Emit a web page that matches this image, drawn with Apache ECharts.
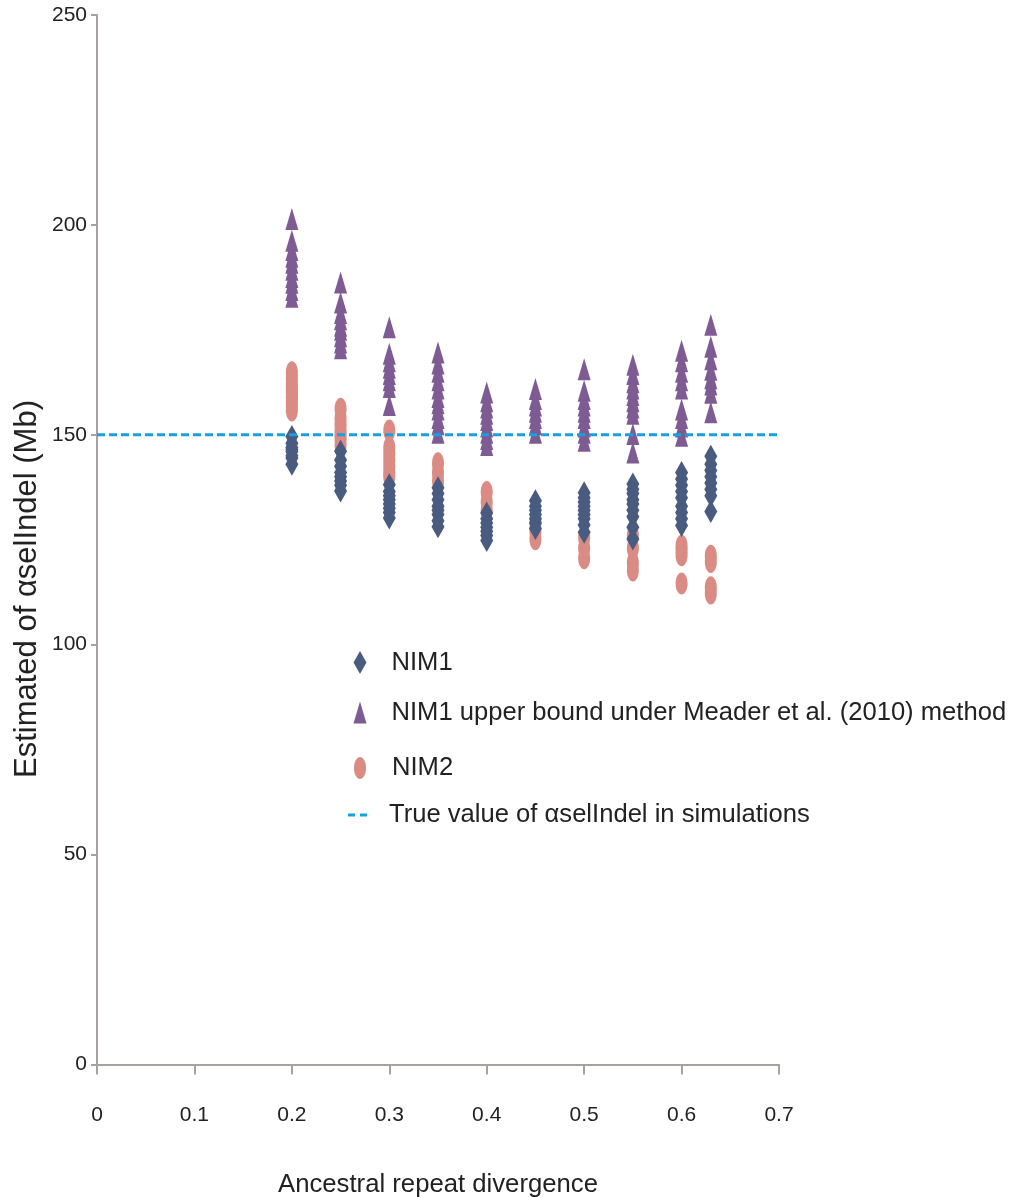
<!DOCTYPE html>
<html>
<head>
<meta charset="utf-8">
<title>Estimated αselIndel vs ancestral repeat divergence</title>
<script src="https://cdn.jsdelivr.net/npm/echarts@6/dist/echarts.min.js"></script>
<style>
  html, body { margin: 0; padding: 0; background: #ffffff; }
  #chart { width: 1010px; height: 1197px; }
</style>
</head>
<body>
<div id="chart"></div>
<script>
// Divergence levels at which the simulations were run
const divergence = [0.2, 0.25, 0.3, 0.35, 0.4, 0.45, 0.5, 0.55, 0.6, 0.63];

// NIM1 estimates (Mb), one list per divergence level
const nim1 = [
  [149.6, 148, 147, 146.5, 146, 145, 144.5, 143],
  [146.1, 144, 142.5, 141, 140, 139, 138, 136.6],
  [138.1, 136.5, 135.5, 134.5, 133.5, 132.5, 131.5, 130.2],
  [137.4, 136, 134.5, 133, 132, 131, 129.5, 128.1],
  [131.4, 130, 129, 128, 127, 126, 124.8],
  [134.3, 133, 132, 131, 130, 129, 127.7],
  [136.2, 135, 134, 133, 132, 131, 130, 128.5, 126.8],
  [138.3, 137, 136, 134.5, 133.5, 132, 130.5, 128, 125.2],
  [141, 139.5, 138, 136.5, 135, 133, 131.5, 130, 128.4],
  [144.9, 143, 141.5, 140, 138.5, 137, 135.5, 131.7]
];

// NIM1 upper bound under the Meader et al. (2010) method (Mb)
const nim1Upper = [
  [201.4, 196.2, 194.0, 192.4, 191.0, 189.3, 187.6, 186.2, 184.5, 182.9],
  [186.3, 181.5, 179, 177.5, 176, 175, 173.5, 172, 170.6],
  [175.6, 169.3, 167.5, 166, 164.5, 163, 161.4, 157.1],
  [169.6, 167, 165, 163, 161, 159, 157.5, 156, 154, 152.5, 150.5],
  [160.1, 158, 156.5, 155, 153.5, 152, 150.5, 149, 147.6],
  [160.9, 158.5, 157, 155.5, 154, 152.5, 150.5],
  [165.6, 160.5, 158.5, 157, 155.5, 154, 152, 150.5, 148.6],
  [166.7, 164.5, 162.5, 161, 159.5, 158, 156.5, 155, 150.2, 145.8],
  [170, 167.5, 165, 163, 161, 156, 154, 152, 149.8],
  [176.2, 171, 168, 165.5, 163.5, 162, 160, 155.4]
];

// NIM2 estimates (Mb)
const nim2 = [
  [164.9, 163.5, 162, 161, 160, 159, 158, 157, 155.8],
  [156.2, 154, 152.5, 151, 150, 149, 147.5],
  [151, 147, 145.5, 144, 142.5, 141, 140],
  [143.2, 141, 139],
  [136.4, 134, 132],
  [125.1, 127, 129],
  [120.6, 123, 125.5],
  [117.7, 119.5, 123, 126],
  [123.6, 122.5, 121.3, 114.6],
  [121.2, 119.7, 113.7, 112.2]
];

// Value used in the simulations, drawn across the divergence range
const trueValue = 150;
const trueLineX = [0, 0.7];

const seriesNames = [
  'NIM1',
  'NIM1 upper bound under Meader et al. (2010) method',
  'NIM2',
  'True value of αselIndel in simulations'
];

function pairs(groups) {
  const out = [];
  groups.forEach((vals, i) => vals.forEach(v => out.push([divergence[i], v])));
  return out;
}

const ellipse = 'path://M1,0C1.552,0,2,0.448,2,1C2,1.552,1.552,2,1,2C0.448,2,0,1.552,0,1C0,0.448,0.448,0,1,0Z';
const dashIcon = 'path://M0,0H7V1H0ZM12,0H19V1H12Z';
const FONT = '"Liberation Sans", Arial, Helvetica, sans-serif';
const textColor = '#222222';
const axisColor = '#a8a29e';
const lineColor = '#1a9fe0';

const legendText = { color: textColor, fontFamily: FONT, fontSize: 25.6, lineHeight: 23 };

const chart = echarts.init(document.getElementById('chart'), null, { renderer: 'canvas' });

chart.setOption({
  backgroundColor: '#ffffff',
  animation: false,
  grid: { left: 97, right: 231, top: 15, bottom: 132.5, containLabel: false, outerBoundsMode: 'none' },
  xAxis: {
    type: 'value',
    min: 0,
    max: 0.7,
    interval: 0.1,
    name: 'Ancestral repeat divergence',
    nameLocation: 'middle',
    nameGap: 107,
    nameTextStyle: { color: textColor, fontFamily: FONT, fontSize: 25.7 },
    axisLine: { show: true, lineStyle: { color: axisColor, width: 2 } },
    axisTick: { show: true, length: 10, lineStyle: { color: axisColor, width: 2 } },
    axisLabel: { color: textColor, fontFamily: FONT, fontSize: 21, margin: 40 },
    splitLine: { show: false }
  },
  yAxis: {
    type: 'value',
    min: 0,
    max: 250,
    interval: 50,
    axisLine: { show: true, lineStyle: { color: axisColor, width: 2 } },
    axisTick: { show: true, length: 6, lineStyle: { color: axisColor, width: 2 } },
    axisLabel: { color: textColor, fontFamily: FONT, fontSize: 21, margin: 10 },
    splitLine: { show: false }
  },
  legend: [
    {
      data: [{ name: seriesNames[0], icon: 'diamond' }],
      left: 353.5, top: 649.5, padding: 0, orient: 'vertical',
      itemWidth: 13, itemHeight: 23, symbolKeepAspect: false, selectedMode: false,
      textStyle: Object.assign({ padding: [0, 0, 0, 20] }, legendText)
    },
    {
      data: [{ name: seriesNames[1], icon: 'triangle' }],
      left: 353.5, top: 699.5, padding: 0, orient: 'vertical',
      itemWidth: 13, itemHeight: 22, symbolKeepAspect: false, selectedMode: false,
      textStyle: Object.assign({ padding: [0, 0, 0, 20] }, legendText, { lineHeight: 22 })
    },
    {
      data: [{ name: seriesNames[2], icon: ellipse }],
      left: 354, top: 755, padding: 0, orient: 'vertical',
      itemWidth: 12, itemHeight: 22, symbolKeepAspect: false, selectedMode: false,
      textStyle: Object.assign({ padding: [0, 0, 0, 21] }, legendText, { lineHeight: 22 })
    },
    {
      data: [{ name: seriesNames[3], icon: dashIcon }],
      left: 348, top: 802, padding: 0, orient: 'vertical',
      itemWidth: 19, itemHeight: 3, symbolKeepAspect: false, selectedMode: false,
      itemStyle: { color: lineColor },
      textStyle: Object.assign({ padding: [0, 0, 0, 17] }, legendText, { lineHeight: 14 })
    }
  ],
  graphic: [
    {
      type: 'text',
      x: 27,
      y: 589,
      rotation: Math.PI / 2,
      style: {
        text: 'Estimated of αselIndel (Mb)',
        fill: textColor,
        font: '31px ' + FONT,
        align: 'center',
        verticalAlign: 'middle'
      }
    }
  ],
  series: [
    {
      name: seriesNames[0],
      type: 'scatter',
      symbol: 'diamond',
      symbolSize: [13, 23],
      itemStyle: { color: '#4a5b80', opacity: 1 },
      z: 4,
      emphasis: { disabled: true },
      data: pairs(nim1)
    },
    {
      name: seriesNames[1],
      type: 'scatter',
      symbol: 'triangle',
      symbolSize: [13, 22],
      itemStyle: { color: '#7f5b94', opacity: 1 },
      z: 3,
      emphasis: { disabled: true },
      data: pairs(nim1Upper)
    },
    {
      name: seriesNames[2],
      type: 'scatter',
      symbol: ellipse,
      symbolSize: [12, 22],
      itemStyle: { color: '#d98b84', opacity: 1 },
      z: 2,
      emphasis: { disabled: true },
      data: pairs(nim2)
    },
    {
      name: seriesNames[3],
      type: 'line',
      symbol: 'none',
      z: 6,
      color: lineColor,
      itemStyle: { color: lineColor },
      lineStyle: { color: lineColor, width: 3, type: [8, 4] },
      emphasis: { disabled: true },
      data: trueLineX.map(x => [x, trueValue])
    }
  ]
});
</script>
</body>
</html>
